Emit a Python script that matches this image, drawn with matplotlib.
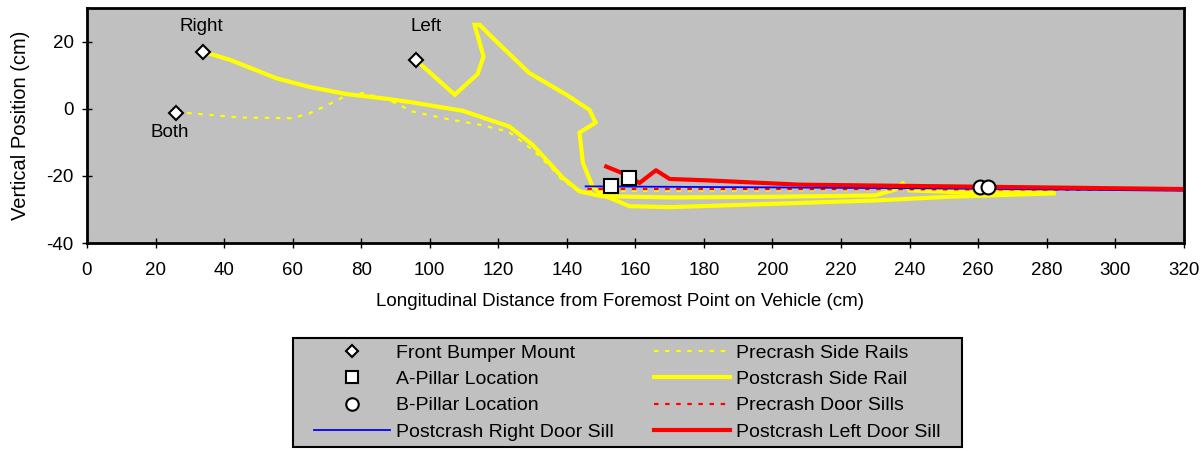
import matplotlib.pyplot as plt
from matplotlib.patches import Rectangle

plt.rcParams['font.family'] = ['Liberation Sans', 'DejaVu Sans']
plt.rcParams['axes.unicode_minus'] = False

# data (cm)
bumper_x = [33.8, 95.9, 26.0]
bumper_y = [17.0, 14.6, -1.2]
bumper_labels = ["Right", "Left", "Both"]

a_pillar_x = [152.8, 158.0]
a_pillar_y = [-23.0, -20.5]

b_pillar_x = [260.5, 263.0]
b_pillar_y = [-23.3, -23.3]

pre_rail_x = [26.0, 30, 45, 60, 65, 72, 76, 80.5, 88, 95, 105, 115, 123, 130, 135, 139, 143, 146, 160, 200, 240, 282]
pre_rail_y = [-1.2, -1.3, -2.6, -2.8, -1.3, 2.0, 4.2, 4.7, 2.7, -0.8, -3.0, -4.8, -6.8, -12.2, -17.0, -21.6, -24.0, -24.6, -24.4, -24.3, -24.2, -24.6]

post_right_rail_x = [33.8, 41.7, 55.3, 65, 75.7, 87.4, 95, 109.7, 123.3, 130, 138.8, 143.7, 150, 170, 200, 230, 236, 238, 240, 260, 282]
post_right_rail_y = [17.0, 14.6, 9.1, 6.5, 4.4, 3.0, 1.9, -0.6, -5.3, -10.7, -20.5, -24.6, -26.0, -26.4, -26.2, -25.8, -24.0, -22.2, -24.3, -25.0, -25.0]

post_left_rail_x = [95.9, 107.3, 114, 115.7, 113.1, 114.6, 117.5, 129, 139.9, 146.6, 148.4, 143.7, 144.7, 147.5, 150.4, 158.3, 170, 200, 230, 251.6, 282]
post_left_rail_y = [14.6, 4.2, 10.4, 15.6, 25.0, 25.0, 22.0, 10.7, 4.2, -0.3, -4.1, -7.1, -16.1, -23.1, -25.6, -29.0, -29.3, -28.3, -27.3, -26.2, -25.2]

pre_sill_x = [146, 200, 260, 320]
pre_sill_y = [-23.9, -23.9, -24.0, -24.2]

post_right_sill_x = [145.5, 200, 260, 320]
post_right_sill_y = [-23.1, -23.4, -23.8, -24.4]

post_left_sill_x = [151.5, 157.3, 161.2, 166, 170, 180.7, 208, 260, 320]
post_left_sill_y = [-17.2, -19.6, -22.1, -18.3, -20.9, -21.3, -22.6, -23.2, -23.9]

fig = plt.figure(figsize=(12.03, 4.51), dpi=100)
ax = fig.add_axes([0.0723, 0.461, 0.9117, 0.521])
ax.set_facecolor('#C0C0C0')

ax.plot(pre_rail_x, pre_rail_y, color='#FFFF00', lw=1.6, ls=(0, (2, 3)), label='Precrash Side Rails')
ax.plot(post_right_rail_x, post_right_rail_y, color='#FFFF00', lw=3, label='Postcrash Side Rail', solid_joinstyle='miter')
ax.plot(post_left_rail_x, post_left_rail_y, color='#FFFF00', lw=3, solid_joinstyle='miter')
ax.plot(pre_sill_x, pre_sill_y, color='#FF0000', lw=1.6, ls=(0, (2, 3)), label='Precrash Door Sills')
ax.plot(post_right_sill_x, post_right_sill_y, color='#0000FF', lw=1.3, label='Postcrash Right Door Sill')
ax.plot(post_left_sill_x, post_left_sill_y, color='#FF0000', lw=3, label='Postcrash Left Door Sill')

ax.plot(bumper_x, bumper_y, ls='none', marker='D', ms=7, mfc='white', mec='black', mew=1.5, label='Front Bumper Mount')
ax.plot(a_pillar_x, a_pillar_y, ls='none', marker='s', ms=10, mfc='white', mec='black', mew=1.5, label='A-Pillar Location')
ax.plot(b_pillar_x, b_pillar_y, ls='none', marker='o', ms=10, mfc='white', mec='black', mew=1.5, label='B-Pillar Location')

ax.text(33.5, 24.4, bumper_labels[0], ha='center', va='center', fontsize=13.5)
ax.text(98.8, 24.4, bumper_labels[1], ha='center', va='center', fontsize=13.5)
ax.text(24.2, -7.1, bumper_labels[2], ha='center', va='center', fontsize=13.5)

ax.set_xlim(0, 320)
ax.set_ylim(-40, 30)
ax.set_xticks(range(0, 321, 20))
ax.set_yticks([-40, -20, 0, 20])
ax.tick_params(direction='inout', length=7, width=1, labelsize=13.5, pad=6)
ax.tick_params(axis='x', pad=10)
for s in ax.spines.values():
    s.set_linewidth(2)
ax.set_xlabel('Longitudinal Distance from Foremost Point on Vehicle (cm)', fontsize=13.5, labelpad=10)
ax.xaxis.label.set_x(0.486)
ax.set_ylabel('Vertical Position (cm)', fontsize=14.5, labelpad=12)

# legend box drawn separately so the inner padding can differ from the frame
fig.patches.append(Rectangle((293 / 1203, 1 - 447 / 451), 669 / 1203, 109 / 451,
                             transform=fig.transFigure, facecolor='#C0C0C0',
                             edgecolor='black', linewidth=1.5, zorder=0))

h, l = ax.get_legend_handles_labels()
order = ['Front Bumper Mount', 'A-Pillar Location', 'B-Pillar Location', 'Postcrash Right Door Sill',
         'Precrash Side Rails', 'Postcrash Side Rail', 'Precrash Door Sills', 'Postcrash Left Door Sill']
hm = dict(zip(l, h))
leg = fig.legend([hm[k] for k in order], order, ncol=2, loc='upper left',
                 bbox_to_anchor=(314 / 1203, 1 - 344 / 451),
                 fontsize=14, frameon=False, handlelength=3.9, handletextpad=0.3,
                 labelspacing=0.45, borderaxespad=0, borderpad=0, columnspacing=2.1,
                 markerscale=0.9)

fig.savefig('out.png', dpi=100)
